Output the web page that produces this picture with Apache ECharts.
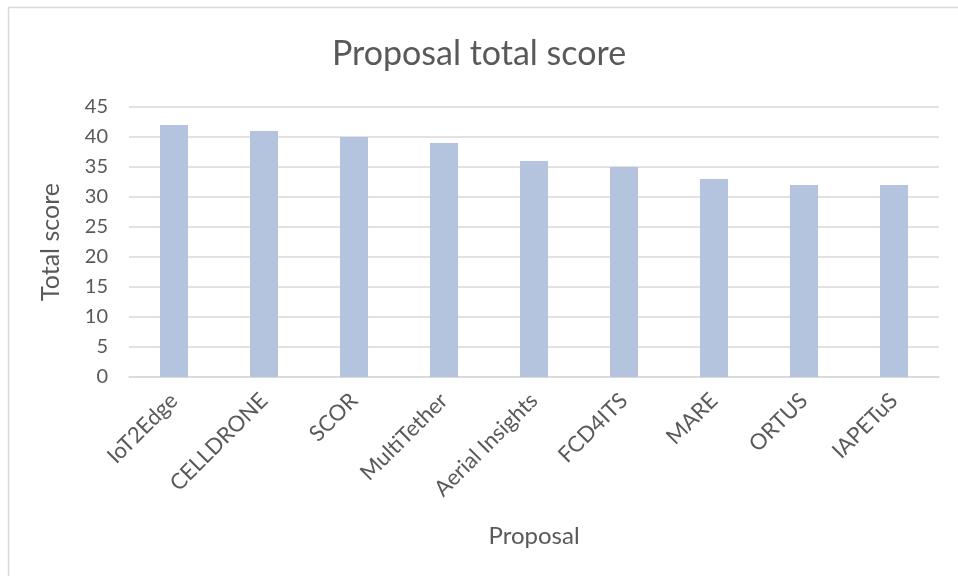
<!DOCTYPE html>
<html><head><meta charset="utf-8">
<script src="https://cdn.jsdelivr.net/npm/echarts@6/dist/echarts.min.js"></script>
<style>html,body{margin:0;padding:0;background:#fff}#c{width:958px;height:576px}</style>
</head><body><div id="c"></div>
<script>
const categories = ["IoT2Edge","CELLDRONE","SCOR","MultiTether","Aerial Insights","FCD4ITS","MARE","ORTUS","IAPETuS"];
const scores = [42,41,40,39,36,35,33,32,32];
const yTicks = {min:0, max:45, interval:5};
const font = "Lato, 'Open Sans', sans-serif";
const chart = echarts.init(document.getElementById('c'));
chart.setOption({
  animation:false,
  graphic:[{type:'rect', shape:{x:8.5,y:7.5,width:1000,height:1000}, style:{fill:'none', stroke:'#d9d9d9', lineWidth:1.5}, silent:true}],
  title:{text:'Proposal total score', left:'center', top:32, textStyle:{fontFamily:font, fontSize:34, fontWeight:'normal', color:'#595959'}},
  grid:{left:129, right:19, top:107, bottom:199},
  xAxis:{type:'category', data:categories, name:'Proposal', nameLocation:'middle', nameGap:147,
    nameTextStyle:{fontFamily:font, fontSize:24, color:'#595959'},
    axisLine:{lineStyle:{color:'#d9d9d9', width:1.5}}, axisTick:{show:false},
    axisLabel:{rotate:45, interval:0, fontFamily:font, fontSize:22, color:'#595959', margin:20}},
  yAxis:{type:'value', min:yTicks.min, max:yTicks.max, interval:yTicks.interval, name:'Total score', nameLocation:'middle', nameGap:66,
    nameTextStyle:{fontFamily:font, fontSize:25, color:'#595959'},
    axisLine:{show:false}, axisTick:{show:false},
    splitLine:{lineStyle:{color:'#d9d9d9', width:1.5}},
    axisLabel:{fontFamily:font, fontSize:20, color:'#595959', margin:21}},
  series:[{type:'bar', data:scores, barWidth:28, itemStyle:{color:'#b4c4de'}}]
});
</script></body></html>
